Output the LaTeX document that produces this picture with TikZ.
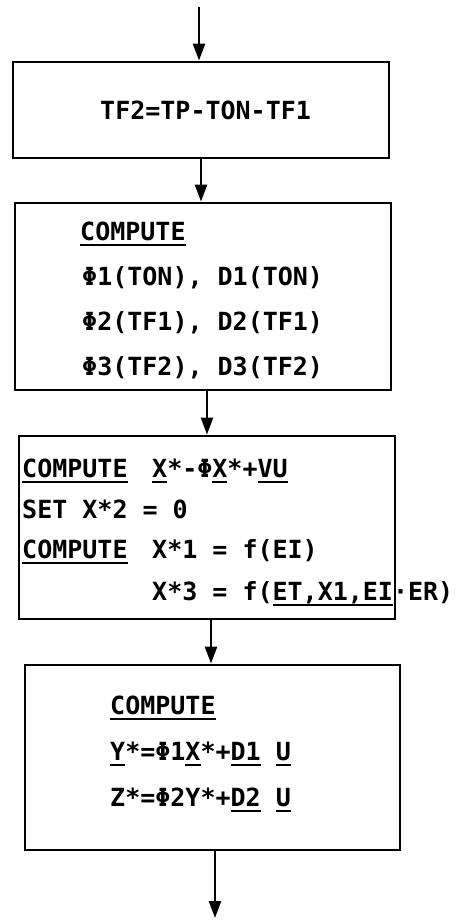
\documentclass[tikz,border=0pt]{standalone}
\usepackage{fontspec}
\setmainfont{DejaVu Sans Mono}
\usetikzlibrary{arrows.meta}
\newcommand\uln[1]{\setbox0\hbox{#1}\rlap{\vrule height -3.5pt depth 5.5pt width \wd0}\box0\relax}
\begin{document}
\begin{tikzpicture}[x=1pt,y=-1pt,
  box/.style={draw,line width=2.8pt,inner sep=0pt},
  txt/.style={anchor=base west,inner sep=0pt,font=\fontsize{25}{29}\selectfont\bfseries},
  arr/.style={line width=2.5pt,-{Triangle[length=17pt,width=12pt]}}]
\useasboundingbox (0,0) rectangle (464,920);
% boxes
\node[box,minimum width=376pt,minimum height=96pt] (b1) at (201,110) {};
\node[box,minimum width=376pt,minimum height=187pt] (b2) at (203,296.5) {};
\node[box,minimum width=376pt,minimum height=183pt] (b3) at (207,527.5) {};
\node[box,minimum width=375pt,minimum height=185pt] (b4) at (212.5,757.5) {};
% connector columns
\coordinate (top) at (199,7);
\coordinate (c1) at (201,0);
\coordinate (c2) at (207,0);
\coordinate (c3) at (211,0);
\coordinate (c4) at (215,0);
\coordinate (bot) at (215,918);
% texts
\node[txt] (t1) at (100,120) {TF2=TP-TON-TF1};
\node[txt] (t2a) at (80,240) {\uln{COMPUTE}};
\node[txt] (t2b) at (82,285) {Φ1(TON), D1(TON)};
\node[txt] (t2c) at (82,330) {Φ2(TF1), D2(TF1)};
\node[txt] (t2d) at (82,375) {Φ3(TF2), D3(TF2)};
\node[txt] (t3a) at (22,477) {\uln{COMPUTE}};
\node[txt] (t3b) at (152,477) {\uln{X}*-Φ\uln{X}*+\uln{VU}};
\node[txt] (t3c) at (22,518) {SET X*2 = 0};
\node[txt] (t3d) at (22,558) {\uln{COMPUTE}};
\node[txt] (t3e) at (152,558) {X*1 = f(EI)};
\node[txt] (t3f) at (152,600) {X*3 = f(\uln{ET,X1,EI}·ER)};
\node[txt] (t4a) at (110,714) {\uln{COMPUTE}};
\node[txt] (t4b) at (110,760) {\uln{Y}*=Φ1\uln{X}*+\uln{D1} \uln{U}};
\node[txt] (t4c) at (110,806) {Z*=Φ2Y*+\uln{D2} \uln{U}};
% connectors
\draw[arr] (top) -- (b1.north -| top);
\draw[arr] (b1.south -| c1) -- (b2.north -| c1);
\draw[arr] (b2.south -| c2) -- (b3.north -| c2);
\draw[arr] (b3.south -| c3) -- (b4.north -| c3);
\draw[arr] (b4.south -| c4) -- (bot);
\end{tikzpicture}
\end{document}
